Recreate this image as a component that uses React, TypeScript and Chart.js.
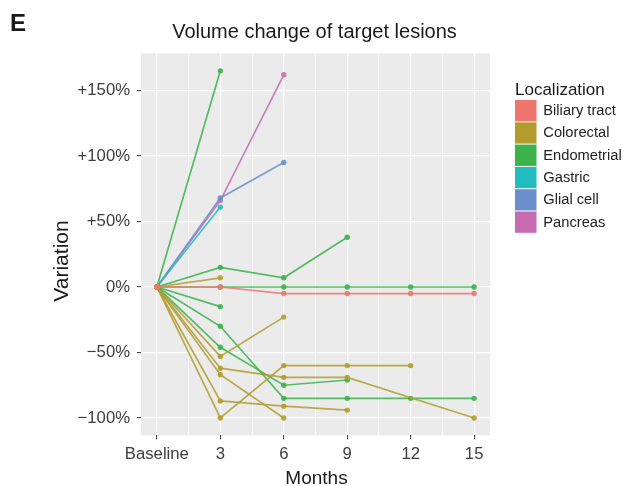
import React, { useEffect, useRef } from 'react';
import { Chart, registerables } from 'chart.js';

Chart.register(...registerables);

// ---------- data ----------
const CATEGORIES = ['Biliary tract', 'Colorectal', 'Endometrial', 'Gastric', 'Glial cell', 'Pancreas'];
const COLORS = ['#EF766E', '#B39C2E', '#3BB34A', '#22BCC0', '#6C8FCB', '#C76BB0'];
const X_TICKS = [0, 3, 6, 9, 12, 15];
const X_LABELS = ['Baseline', '3', '6', '9', '12', '15'];
const Y_TICKS = [-100, -50, 0, 50, 100, 150];
const Y_LABELS = ['\u2212100%', '\u221250%', '0%', '+50%', '+100%', '+150%'];

// Biliary tract
const biliary1Months = [0, 3, 6, 9, 12, 15];
const biliary1Values = [0, 0, -5, -5, -5, -5];
// Colorectal
const colorectal1Months = [0, 3];
const colorectal1Values = [0, 7];
const colorectal2Months = [0, 3, 6];
const colorectal2Values = [0, -53, -23];
const colorectal3Months = [0, 3, 6, 9, 15];
const colorectal3Values = [0, -62, -69, -69, -100];
const colorectal4Months = [0, 3, 6];
const colorectal4Values = [0, -67, -100];
const colorectal5Months = [0, 3, 6, 9];
const colorectal5Values = [0, -87, -91, -94];
const colorectal6Months = [0, 3, 6, 9, 12];
const colorectal6Values = [0, -100, -60, -60, -60];
// Endometrial
const endometrial1Months = [0, 3];
const endometrial1Values = [0, 165];
const endometrial2Months = [0, 3, 6, 9];
const endometrial2Values = [0, 15, 7, 38];
const endometrial3Months = [0, 3, 6, 9, 12, 15];
const endometrial3Values = [0, 0, 0, 0, 0, 0];
const endometrial4Months = [0, 3];
const endometrial4Values = [0, -15];
const endometrial5Months = [0, 3, 6, 9, 12, 15];
const endometrial5Values = [0, -30, -85, -85, -85, -85];
const endometrial6Months = [0, 3, 6, 9];
const endometrial6Values = [0, -46, -75, -71];
// Gastric
const gastric1Months = [0, 3];
const gastric1Values = [0, 61];
// Glial cell
const glial1Months = [0, 3, 6];
const glial1Values = [0, 68, 95];
// Pancreas
const pancreas1Months = [0, 3, 6];
const pancreas1Values = [0, 66, 162];

const LESIONS: { cat: number; months: number[]; values: number[] }[] = [
  { cat: 0, months: biliary1Months, values: biliary1Values },
  { cat: 1, months: colorectal1Months, values: colorectal1Values },
  { cat: 1, months: colorectal2Months, values: colorectal2Values },
  { cat: 1, months: colorectal3Months, values: colorectal3Values },
  { cat: 1, months: colorectal4Months, values: colorectal4Values },
  { cat: 1, months: colorectal5Months, values: colorectal5Values },
  { cat: 1, months: colorectal6Months, values: colorectal6Values },
  { cat: 2, months: endometrial1Months, values: endometrial1Values },
  { cat: 2, months: endometrial2Months, values: endometrial2Values },
  { cat: 2, months: endometrial3Months, values: endometrial3Values },
  { cat: 2, months: endometrial4Months, values: endometrial4Values },
  { cat: 2, months: endometrial5Months, values: endometrial5Values },
  { cat: 2, months: endometrial6Months, values: endometrial6Values },
  { cat: 3, months: gastric1Months, values: gastric1Values },
  { cat: 4, months: glial1Months, values: glial1Values },
  { cat: 5, months: pancreas1Months, values: pancreas1Values },
];

const FONT = "'Liberation Sans', Arial, Helvetica, sans-serif";

function hexA(hex: string, a: number) {
  const r = parseInt(hex.slice(1, 3), 16);
  const g = parseInt(hex.slice(3, 5), 16);
  const b = parseInt(hex.slice(5, 7), 16);
  return `rgba(${r},${g},${b},${a})`;
}

const decorPlugin = {
  id: 'decor',
  beforeDraw(chart: any) {
    const { ctx, chartArea: a } = chart;
    ctx.save();
    ctx.fillStyle = '#EBEBEB';
    ctx.fillRect(a.left, a.top, a.right - a.left, a.bottom - a.top);
    ctx.restore();
  },
  afterDraw(chart: any) {
    const { ctx, chartArea: a } = chart;
    ctx.save();
    // panel letter
    ctx.fillStyle = '#1a1a1a';
    ctx.textAlign = 'left';
    ctx.textBaseline = 'alphabetic';
    ctx.font = `bold 24px ${FONT}`;
    ctx.fillText('E', 10, 30.5);
    // title
    ctx.font = `20px ${FONT}`;
    ctx.textAlign = 'center';
    ctx.fillText('Volume change of target lesions', (a.left + a.right) / 2 - 1, 37.5);
    // x title
    ctx.font = `19px ${FONT}`;
    ctx.fillText('Months', (a.left + a.right) / 2 + 1, 484);
    // y title
    ctx.save();
    ctx.translate(68, 261);
    ctx.rotate(-Math.PI / 2);
    ctx.font = `21px ${FONT}`;
    ctx.textAlign = 'center';
    ctx.fillText('Variation', 0, 0);
    ctx.restore();
    // legend
    ctx.textAlign = 'left';
    ctx.font = `17px ${FONT}`;
    ctx.fillStyle = '#1a1a1a';
    ctx.fillText('Localization', 515, 94.5);
    const step = 22.3;
    CATEGORIES.forEach((c, i) => {
      const y = 100 + i * step;
      ctx.fillStyle = COLORS[i];
      ctx.fillRect(515, y, 21.5, 21.3);
      ctx.fillStyle = '#222';
      ctx.font = `14.7px ${FONT}`;
      ctx.textBaseline = 'middle';
      ctx.fillText(c, 543.3, y + 11);
      ctx.textBaseline = 'alphabetic';
    });
    ctx.restore();
  },
};

export default function App() {
  const ref = useRef<HTMLCanvasElement>(null);
  useEffect(() => {
    if (!ref.current) return;
    const datasets = LESIONS.map((l) => ({
      label: CATEGORIES[l.cat],
      data: l.months.map((m, i) => ({ x: m, y: l.values[i] })),
      borderColor: hexA(COLORS[l.cat], 0.85),
      backgroundColor: hexA(COLORS[l.cat], 0.9),
      pointBackgroundColor: hexA(COLORS[l.cat], 0.9),
      pointBorderWidth: 0,
      pointRadius: 2.7,
      pointHoverRadius: 2.7,
      borderWidth: 1.7,
      tension: 0,
      fill: false,
    }));
    const xMinor: number[] = [];
    for (let i = 0; i <= 10; i++) xMinor.push(i * 1.5);
    const chart = new Chart(ref.current, {
      type: 'line',
      data: { datasets },
      plugins: [decorPlugin],
      options: {
        responsive: false,
        animation: false,
        layout: { padding: { top: 53.3, right: 143, bottom: 0, left: 0 } },
        plugins: { legend: { display: false }, tooltip: { enabled: false }, title: { display: false } },
        scales: {
          x: {
            type: 'linear',
            min: -0.75,
            max: 15.75,
            afterBuildTicks: (s: any) => {
              s.ticks = xMinor.map((v) => ({ value: v }));
            },
            afterFit: (s: any) => {
              s.height = 50.6;
            },
            ticks: {
              autoSkip: false,
              maxRotation: 0,
              padding: 5,
              color: '#3d3d3d',
              font: { family: FONT, size: 16.7 },
              callback: (v: any) => {
                const i = X_TICKS.indexOf(Number(v));
                return i >= 0 ? X_LABELS[i] : '';
              },
            },
            grid: {
              color: '#FFFFFF',
              lineWidth: (c: any) => (X_TICKS.indexOf(c.tick?.value) >= 0 ? 1.2 : 0.6),
              tickLength: 4,
              tickWidth: 1,
              tickColor: (c: any) => (X_TICKS.indexOf(c.tick?.value) >= 0 ? '#333333' : 'rgba(0,0,0,0)'),
            },
            border: { display: false },
          },
          y: {
            type: 'linear',
            min: -113.3,
            max: 178.4,
            afterBuildTicks: (s: any) => {
              s.ticks = Y_TICKS.map((v) => ({ value: v }));
            },
            afterFit: (s: any) => {
              s.width = 141;
            },
            ticks: {
              padding: 7,
              color: '#3d3d3d',
              font: { family: FONT, size: 16.7 },
              callback: (v: any) => {
                const i = Y_TICKS.indexOf(Number(v));
                return i >= 0 ? Y_LABELS[i] : '';
              },
            },
            grid: {
              color: '#FFFFFF',
              lineWidth: 1.2,
              tickLength: 4,
              tickWidth: 1,
              tickColor: '#333333',
            },
            border: { display: false },
          },
        },
      },
    } as any);
    return () => chart.destroy();
  }, []);
  return (
    <div style={{ position: 'absolute', left: 0, top: 0, width: 633, height: 486, background: '#fff' }}>
      <canvas ref={ref} width={633} height={486} style={{ display: 'block' }} />
    </div>
  );
}
